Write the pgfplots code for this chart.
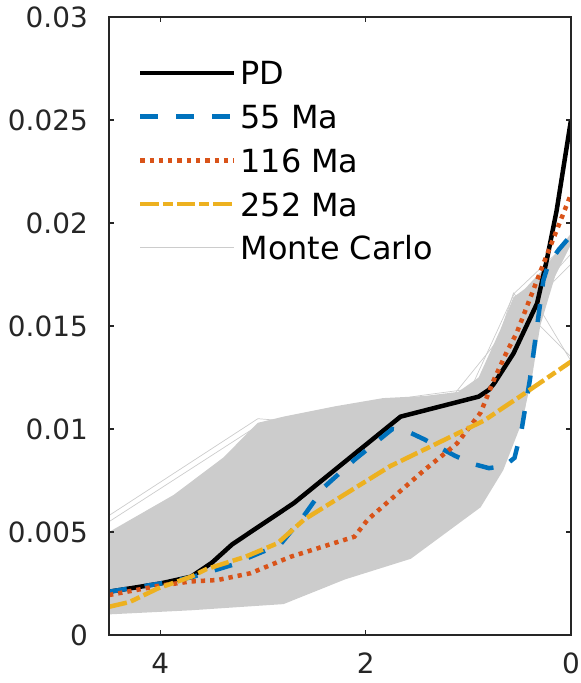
\documentclass[border=0pt]{standalone}
\usepackage{fontspec}
\setmainfont{DejaVu Sans}
\usepackage{pgfplots}
\pgfplotsset{compat=1.18}
\definecolor{axisgray}{RGB}{38,38,38}
\definecolor{mcgray}{RGB}{204,204,204}
\definecolor{mblue}{rgb}{0,0.447,0.741}
\definecolor{morange}{rgb}{0.85,0.325,0.098}
\definecolor{myellow}{rgb}{0.929,0.694,0.125}
\begin{document}
\begin{tikzpicture}
\useasboundingbox (-109bp,-48bp) rectangle (472bp,635bp);
\begin{axis}[
  at={(0,0)}, anchor=south west,
  width=462bp, height=618bp, scale only axis,
  x dir=reverse,
  xmin=0, xmax=4.5, ymin=0, ymax=0.03,
  xtick={0,2,4},
  ytick={0,0.005,0.01,0.015,0.02,0.025,0.03},
  yticklabels={0,0.005,0.01,0.015,0.02,0.025,0.03},
  scaled y ticks=false,
  /pgf/number format/assume math mode=true,
  tick align=inside,
  major tick length=5bp,
  axis line style={line width=1.5bp, draw=axisgray},
  every tick/.style={line width=1.2bp, draw=axisgray},
  ticklabel style={font=\fontsize{28}{30}\selectfont, text=axisgray},
  yticklabel style={inner sep=0pt, anchor=east, xshift=-21bp},
  xticklabel style={inner sep=0pt, anchor=north, yshift=-18bp},
  axis on top,
  legend cell align=left,
  legend image code/.code={\draw[#1] (0bp,0bp) -- (94bp,0bp);},
  legend style={draw=none, fill=none, inner sep=0pt, outer sep=0pt,
    at={(0.0628,0.9288)}, anchor=north west,
    font=\fontsize{32}{34}\selectfont, column sep=4bp, row sep=19.75bp,
    nodes={inner sep=0pt, text height=24bp, text depth=0bp}},
]
% Monte Carlo band (envelope of the realisations)
\addplot[fill=mcgray, draw=none, forget plot] coordinates {
 (4.5,0.0050) (3.87,0.0068) (3.39,0.0086) (3.05,0.0103) (2.8,0.0106) (2.3,0.0111)
 (1.83,0.0115) (1.43,0.0116) (1.1,0.0118) (0.9,0.0125) (0.69,0.0148) (0.56,0.0164)
 (0.45,0.0168) (0.3,0.0176) (0.15,0.0185) (0,0.0195)
 (0,0.0190) (0.15,0.0175) (0.3,0.0150) (0.38,0.0125) (0.48,0.0103) (0.66,0.0080)
 (0.88,0.0062) (1.37,0.0044) (1.56,0.0037) (2.2,0.0027) (2.8,0.0015) (3.7,0.0012)
 (4.5,0.0010)
} -- cycle;
% individual Monte Carlo lines
\addplot[mcgray, line width=0.7bp, forget plot] coordinates {
 (4.5,0.0058) (3.05,0.0105) (2.8,0.0104) (1.8,0.0114) (1.0,0.0117) (0.55,0.0166) (0,0.0192)};
\addplot[mcgray, line width=0.7bp, forget plot] coordinates {
 (4.5,0.0055) (3.1,0.0100) (2.75,0.0106) (1.5,0.0116) (0.9,0.0120) (0.45,0.0160) (0,0.0185)};
\addplot[mcgray, line width=0.7bp, forget plot] coordinates {
 (4.5,0.0046) (3.3,0.0085) (2.7,0.0100) (1.7,0.0112) (0.8,0.0118) (0.3,0.0158) (0,0.0133)};
\addplot[mcgray, line width=0.7bp, forget plot] coordinates {
 (4.5,0.0011) (3.7,0.0013) (2.8,0.0016) (2.1,0.0030) (1.4,0.0045) (0.7,0.0078) (0.45,0.0110) (0.3,0.0160) (0,0.0190)};
\addplot[mcgray, line width=0.7bp, forget plot] coordinates {
 (4.5,0.0040) (3.4,0.0072) (2.9,0.0095) (1.9,0.0105) (0.9,0.0115) (0.56,0.0166) (0.3,0.0150) (0,0.0135)};
\addplot[mcgray, line width=0.7bp, forget plot] coordinates {
 (4.5,0.0049) (3.6,0.0070) (3.0,0.0098) (2.2,0.0108) (1.2,0.0113) (0.6,0.0150) (0,0.0180)};
% main curves
\addplot[black, line width=4.5bp, line join=round] coordinates {
 (4.5,0.0021) (4.0,0.0025) (3.7,0.00283) (3.5,0.0035) (3.3,0.0044) (2.7,0.0064)
 (1.66,0.0106) (0.90,0.01157) (0.80,0.0119) (0.75,0.0122) (0.56,0.01367)
 (0.33,0.0161) (0.236,0.0182) (0.14,0.0206) (0,0.0250)};
\addlegendentry{PD}
\addplot[mblue, line width=4.5bp, dash pattern=on 18bp off 18bp] coordinates {
 (4.5,0.0021) (4.0,0.0025) (3.7,0.0028) (3.3,0.0034) (3.12,0.0038) (2.83,0.0044)
 (2.6,0.0058) (2.4,0.0072) (2.11,0.0085) (1.74,0.0100) (1.6,0.0099) (1.43,0.0095)
 (1.13,0.0087) (0.95,0.0083) (0.8,0.0081) (0.65,0.0082) (0.55,0.0086) (0.48,0.0100)
 (0.40,0.0124) (0.33,0.0150) (0.27,0.0172) (0.22,0.0180) (0.12,0.0187) (0,0.0194)};
\addlegendentry{55 Ma}
\addplot[morange, line width=4.5bp, dash pattern=on 4.3bp off 5bp] coordinates {
 (4.5,0.00194) (4.0,0.0024) (3.7,0.0026) (3.44,0.00267) (3.12,0.0030) (2.73,0.0038)
 (2.11,0.00477) (1.98,0.0056) (1.43,0.0080) (1.11,0.0093) (0.88,0.0108) (0.75,0.0124)
 (0.62,0.0138) (0.53,0.01465) (0.27,0.0180) (0,0.0214)};
\addlegendentry{116 Ma}
\addplot[myellow, line width=4.5bp, dash pattern=on 18.3bp off 4.3bp on 9.7bp off 4.3bp] coordinates {
 (4.5,0.00137) (4.3,0.0016) (4.02,0.00227) (3.7,0.00283) (3.55,0.0032) (3.17,0.0038)
 (2.86,0.00445) (2.6,0.0056) (1.76,0.0082) (0.85,0.0104) (0.46,0.0117) (0,0.01327)};
\addlegendentry{252 Ma}
\addlegendimage{mcgray, line width=1bp}
\addlegendentry{Monte Carlo}
\end{axis}
\end{tikzpicture}
\end{document}
